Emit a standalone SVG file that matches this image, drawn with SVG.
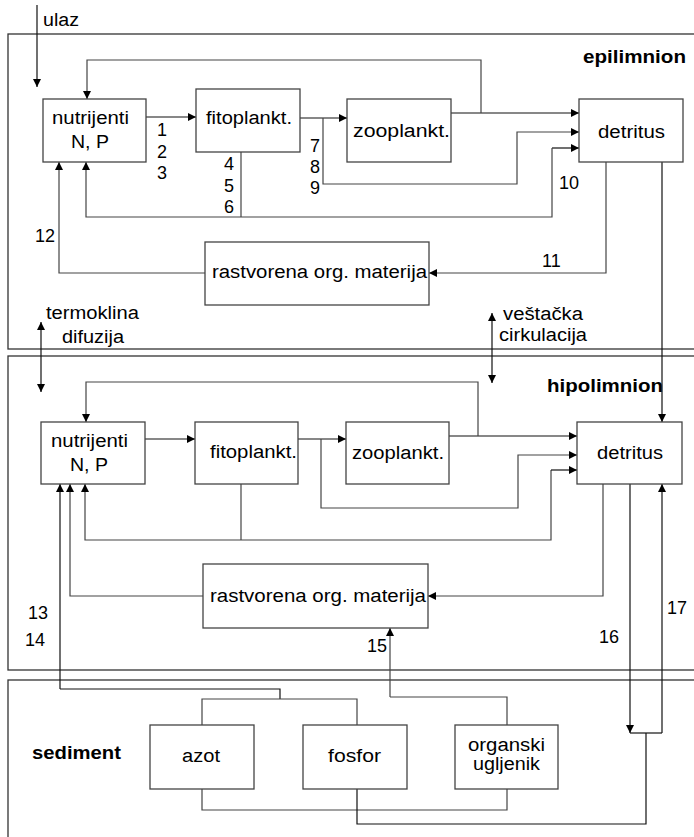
<svg xmlns="http://www.w3.org/2000/svg" width="694" height="837" viewBox="0 0 694 837">
<style>
.sec{fill:none;stroke:#333;stroke-width:1.3}
.box{fill:#fff;stroke:#444;stroke-width:1.3}
.ln{fill:none;stroke:#111;stroke-width:1.2}
.lng{fill:none;stroke:#444;stroke-width:1.2}
.t{font-family:"Liberation Sans",Arial,sans-serif;font-size:18px;fill:#000}
.b{font-family:"Liberation Sans",Arial,sans-serif;font-size:18px;font-weight:bold;fill:#000}
</style>
<defs>
<marker id="ah" viewBox="0 0 10 10" refX="10" refY="5" markerUnits="userSpaceOnUse" markerWidth="9" markerHeight="8" orient="auto">
<path d="M0,0 L10,5 L0,10 z" fill="#000"/>
</marker>
<marker id="ahs" viewBox="0 0 10 10" refX="0" refY="5" markerUnits="userSpaceOnUse" markerWidth="9" markerHeight="8" orient="auto">
<path d="M10,0 L0,5 L10,10 z" fill="#000"/>
</marker>
</defs>
<rect width="694" height="837" fill="#fff"/>

<g id="sections">
<rect class="sec" x="8" y="34" width="700" height="315"/>
<rect class="sec" x="8" y="356" width="700" height="314"/>
<rect class="sec" x="8" y="680" width="700" height="200"/>
<text class="b" x="583" y="63" textLength="103" lengthAdjust="spacingAndGlyphs">epilimnion</text>
<text class="b" x="547" y="392" textLength="116" lengthAdjust="spacingAndGlyphs">hipolimnion</text>
<text class="b" x="32" y="759" textLength="89" lengthAdjust="spacingAndGlyphs">sediment</text>
</g>

<g id="connectors">
<!-- external -->
<path class="ln" d="M37,5 V87" marker-end="url(#ah)"/>
<path class="ln" d="M41,392 V322" marker-start="url(#ahs)" marker-end="url(#ah)"/>
<path class="ln" d="M492,383 V313" marker-start="url(#ahs)" marker-end="url(#ah)"/>
<!-- epilimnion -->
<path class="ln" d="M146,117 H196" marker-end="url(#ah)"/>
<path class="ln" d="M300,118 H347" marker-end="url(#ah)"/>
<path class="ln" d="M451,113 H579" marker-end="url(#ah)"/>
<path class="lng" d="M481,113 V60 H87 V99" marker-end="url(#ah)"/>
<path class="lng" d="M323,118 V184 H517 V132 H579" marker-end="url(#ah)"/>
<path class="lng" d="M241,152 V217"/>
<path class="ln" d="M552,148 H579" marker-end="url(#ah)"/>
<path class="lng" d="M552,148 V217 H86 V162" marker-end="url(#ah)"/>
<path class="lng" d="M606,162 V273 H429" marker-end="url(#ah)"/>
<path class="lng" d="M205,273 H59 V162" marker-end="url(#ah)"/>
<path class="ln" d="M662,162 V422" marker-end="url(#ah)"/>
<!-- hipolimnion -->
<path class="ln" d="M145,439 H195" marker-end="url(#ah)"/>
<path class="ln" d="M298,439 H346" marker-end="url(#ah)"/>
<path class="ln" d="M449,436 H577" marker-end="url(#ah)"/>
<path class="lng" d="M478,436 V382 H86 V422" marker-end="url(#ah)"/>
<path class="lng" d="M321,439 V508 H518 V455 H577" marker-end="url(#ah)"/>
<path class="lng" d="M241,484 V540"/>
<path class="lng" d="M551,470 V540 H85 V484" marker-end="url(#ah)"/>
<path class="ln" d="M551,470 H577" marker-end="url(#ah)"/>
<path class="lng" d="M603,484 V596 H428" marker-end="url(#ah)"/>
<path class="lng" d="M203,596 H70 V484" marker-end="url(#ah)"/>
<path class="ln" d="M60,689 V484" marker-end="url(#ah)"/>
<path class="lng" d="M390,697 V628" marker-end="url(#ah)"/>
<path class="ln" d="M630,484 V733" marker-end="url(#ah)"/>
<path class="ln" d="M662,733 V484" marker-end="url(#ah)"/>
<!-- sediment -->
<path class="ln" d="M60,689 H280 V699"/>
<path class="lng" d="M202,725 V699 H357 V725"/>
<path class="lng" d="M390,697 H507 V725"/>
<path class="lng" d="M202,789 V810 H507 V789"/>
<path class="ln" d="M357,789 V824 H646 V733"/>
<path class="ln" d="M630,733 H662"/>
</g>

<g id="labels">
<text class="t" x="43" y="26" textLength="36" lengthAdjust="spacingAndGlyphs">ulaz</text>
<text class="t" x="46" y="319" textLength="93" lengthAdjust="spacingAndGlyphs">termoklina</text>
<text class="t" x="62" y="343" textLength="62" lengthAdjust="spacingAndGlyphs">difuzija</text>
<text class="t" x="503" y="320" textLength="80" lengthAdjust="spacingAndGlyphs">veštačka</text>
<text class="t" x="499" y="341" textLength="88" lengthAdjust="spacingAndGlyphs">cirkulacija</text>
<text class="t" x="157" y="136">1</text>
<text class="t" x="157" y="158">2</text>
<text class="t" x="157" y="179">3</text>
<text class="t" x="224" y="170">4</text>
<text class="t" x="224" y="192">5</text>
<text class="t" x="224" y="213">6</text>
<text class="t" x="310" y="152">7</text>
<text class="t" x="310" y="173">8</text>
<text class="t" x="310" y="194">9</text>
<text class="t" x="559" y="189">10</text>
<text class="t" x="542" y="267">11</text>
<text class="t" x="35" y="242">12</text>
<text class="t" x="28" y="619">13</text>
<text class="t" x="25" y="646">14</text>
<text class="t" x="367" y="652">15</text>
<text class="t" x="599" y="643">16</text>
<text class="t" x="667" y="614">17</text>
</g>

<g id="epi-nutrijenti">
<rect class="box" x="43" y="99" width="103" height="63"/>
<text class="t" x="52" y="124" textLength="77" lengthAdjust="spacingAndGlyphs">nutrijenti</text>
<text class="t" x="71" y="148" textLength="38" lengthAdjust="spacingAndGlyphs">N, P</text>
</g>
<g id="epi-fitoplankt">
<rect class="box" x="196" y="89" width="104" height="63"/>
<text class="t" x="206" y="124" textLength="86" lengthAdjust="spacingAndGlyphs">fitoplankt.</text>
</g>
<g id="epi-zooplankt">
<rect class="box" x="347" y="99" width="104" height="63"/>
<text class="t" x="353" y="137" textLength="97" lengthAdjust="spacingAndGlyphs">zooplankt.</text>
</g>
<g id="epi-detritus">
<rect class="box" x="579" y="99" width="104" height="63"/>
<text class="t" x="598" y="138" textLength="67" lengthAdjust="spacingAndGlyphs">detritus</text>
</g>
<g id="epi-rastvorena">
<rect class="box" x="205" y="242" width="224" height="63"/>
<text class="t" x="212" y="278" textLength="215" lengthAdjust="spacingAndGlyphs">rastvorena org. materija</text>
</g>

<g id="hip-nutrijenti">
<rect class="box" x="41" y="422" width="104" height="62"/>
<text class="t" x="51" y="447" textLength="77" lengthAdjust="spacingAndGlyphs">nutrijenti</text>
<text class="t" x="70" y="471" textLength="38" lengthAdjust="spacingAndGlyphs">N, P</text>
</g>
<g id="hip-fitoplankt">
<rect class="box" x="195" y="422" width="103" height="62"/>
<text class="t" x="210" y="458" textLength="87" lengthAdjust="spacingAndGlyphs">fitoplankt.</text>
</g>
<g id="hip-zooplankt">
<rect class="box" x="346" y="422" width="103" height="62"/>
<text class="t" x="352" y="459" textLength="92" lengthAdjust="spacingAndGlyphs">zooplankt.</text>
</g>
<g id="hip-detritus">
<rect class="box" x="577" y="422" width="105" height="62"/>
<text class="t" x="597" y="459" textLength="66" lengthAdjust="spacingAndGlyphs">detritus</text>
</g>
<g id="hip-rastvorena">
<rect class="box" x="203" y="564" width="225" height="64"/>
<text class="t" x="210" y="602" textLength="216" lengthAdjust="spacingAndGlyphs">rastvorena org. materija</text>
</g>

<g id="sed-azot">
<rect class="box" x="150" y="725" width="104" height="64"/>
<text class="t" x="182" y="762" textLength="38" lengthAdjust="spacingAndGlyphs">azot</text>
</g>
<g id="sed-fosfor">
<rect class="box" x="303" y="725" width="104" height="64"/>
<text class="t" x="328" y="762" textLength="53" lengthAdjust="spacingAndGlyphs">fosfor</text>
</g>
<g id="sed-organski">
<rect class="box" x="455" y="725" width="103" height="64"/>
<text class="t" x="468" y="751" textLength="77" lengthAdjust="spacingAndGlyphs">organski</text>
<text class="t" x="473" y="770" textLength="67" lengthAdjust="spacingAndGlyphs">ugljenik</text>
</g>
</svg>
